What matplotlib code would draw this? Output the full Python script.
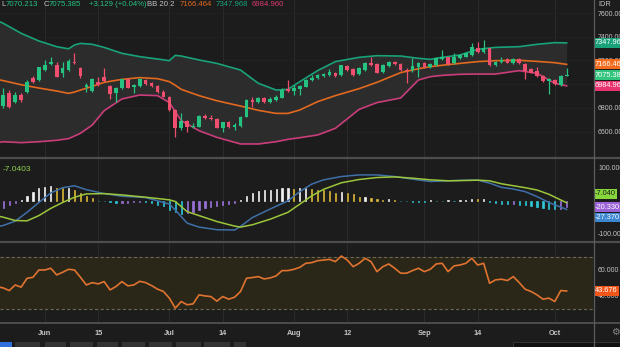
import numpy as np
from matplotlib import pyplot
from matplotlib.lines import Line2D
from matplotlib.patches import Rectangle

# Daily candles, oldest first (day 0 .. 95)
opens = [6815, 6922, 6852, 6908, 6936, 7049, 7035, 7119, 7170, 7161,
         7097, 7119, 7187, 7139, 6979, 6945, 7021, 7063, 6984, 6922,
         6965, 7043, 6973, 6984, 7038, 7012, 6984, 6936, 6894, 6782,
         6627, 6692, 6635, 6641, 6734, 6717, 6706, 6630, 6683, 6641,
         6647, 6725, 6866, 6852, 6880, 6852, 6866, 6886, 6959, 6945,
         6956, 6979, 7035, 7049, 7069, 7077, 7091, 7077, 7153, 7125,
         7085, 7119, 7181, 7167, 7105, 7156, 7190, 7170, 7119, 7119,
         7147, 7175, 7147, 7161, 7215, 7226, 7175, 7218, 7232, 7246,
         7302, 7274, 7302, 7161, 7190, 7209, 7175, 7209, 7170, 7125,
         7111, 7069, 7029, 7035, 6993, 7072]
highs = [6965, 6950, 6936, 6922, 7035, 7069, 7147, 7204, 7226, 7190,
         7190, 7209, 7260, 7147, 7007, 7049, 7063, 7133, 6993, 6979,
         7046, 7049, 6998, 7049, 7046, 7021, 6993, 6950, 6903, 6787,
         6754, 6697, 6669, 6740, 6745, 6740, 6711, 6683, 6692, 6675,
         6731, 6872, 6889, 6894, 6894, 6894, 6908, 6965, 7035, 6993,
         6993, 7040, 7077, 7085, 7097, 7125, 7105, 7164, 7161, 7133,
         7142, 7190, 7226, 7181, 7170, 7198, 7198, 7175, 7133, 7218,
         7190, 7184, 7181, 7232, 7288, 7232, 7260, 7254, 7274, 7350,
         7358, 7372, 7308, 7198, 7226, 7218, 7218, 7218, 7175, 7133,
         7147, 7077, 7049, 7040, 7078, 7133]
lows = [6796, 6796, 6838, 6852, 6928, 7007, 7029, 7114, 7161, 7057,
        7057, 7114, 7170, 7049, 6936, 6936, 6984, 7021, 6872, 6852,
        6956, 6965, 6922, 6973, 6995, 6973, 6922, 6889, 6776, 6557,
        6613, 6599, 6627, 6635, 6703, 6697, 6627, 6599, 6627, 6613,
        6641, 6720, 6810, 6844, 6844, 6844, 6858, 6880, 6936, 6908,
        6908, 6973, 7026, 7040, 7057, 7069, 7063, 7069, 7114, 7069,
        7077, 7114, 7156, 7091, 7097, 7147, 7161, 7114, 7012, 7105,
        7063, 7133, 7139, 7153, 7204, 7164, 7170, 7209, 7226, 7237,
        7265, 7265, 7156, 7153, 7175, 7175, 7170, 7170, 7040, 7091,
        7063, 7021, 6917, 6993, 6984, 7070.213]
closes = [6908, 6810, 6908, 6866, 7021, 7021, 7142, 7161, 7187, 7063,
          7133, 7195, 7175, 7069, 6993, 7043, 6993, 7029, 6917, 6970,
          7040, 6970, 6993, 7043, 7001, 6984, 6931, 6894, 6782, 6627,
          6692, 6635, 6650, 6734, 6711, 6706, 6633, 6678, 6641, 6652,
          6725, 6866, 6852, 6880, 6852, 6875, 6894, 6950, 6945, 6965,
          6984, 7035, 7055, 7077, 7085, 7105, 7069, 7159, 7119, 7077,
          7133, 7181, 7161, 7097, 7161, 7190, 7170, 7119, 7114, 7156,
          7175, 7142, 7170, 7223, 7226, 7170, 7226, 7246, 7260, 7311,
          7274, 7302, 7161, 7190, 7204, 7181, 7209, 7175, 7114, 7097,
          7069, 7029, 7040, 7001, 7072.256, 7075.385]

# Bollinger bands (20, 2)
band_days = [-1, 0, 3, 6, 9, 11, 12, 13, 15, 17, 20, 23, 26, 28, 29, 30, 33, 36, 40,
             43, 46, 48, 50, 53, 56, 60, 63, 67, 70, 72, 74, 77, 80, 83, 87, 90, 93, 95]
band_upper = [7535, 7513, 7429, 7364, 7316, 7298, 7330, 7344, 7336, 7310, 7260, 7232, 7212,
              7198, 7243, 7237, 7204, 7175, 7119, 7007, 6950, 6956, 7021, 7114, 7190, 7226,
              7240, 7237, 7218, 7209, 7226, 7246, 7294, 7310, 7316, 7336, 7350, 7347.968]
band_middle = [7040, 7029, 6995, 6967, 6942, 6922, 6933, 6950, 6981, 7015, 7040, 7055, 7046,
               7021, 6990, 6956, 6903, 6860, 6815, 6779, 6753, 6753, 6782, 6852, 6903, 6962,
               7015, 7097, 7130, 7147, 7159, 7175, 7190, 7198, 7201, 7192, 7181, 7166.464]
band_lower = [6506, 6514, 6506, 6514, 6526, 6540, 6562, 6585, 6655, 6776, 6875, 6908, 6903,
              6844, 6768, 6692, 6607, 6551, 6495, 6495, 6514, 6534, 6548, 6571, 6627, 6787,
              6844, 6883, 7035, 7063, 7074, 7083, 7085, 7085, 7114, 7091, 7007, 6984.960]

# Oscillator panel: fast line, signal line and their difference per day
osc_days = [-1, 0, 2, 4, 6, 8, 10, 12, 14, 17, 20, 24, 28, 29, 31, 33, 36, 39, 40, 42,
            45, 48, 50, 52, 54, 57, 60, 63, 66, 69, 72, 75, 78, 80, 82, 84, 86, 88, 90, 92, 95]
osc_fast = [-80, -76, -63, -36, -6, 23, 39, 45, 33, 21, 13, 9, -11, -29, -69, -81, -89, -90,
            -79, -52, -26, -1, 27, 50, 63, 73, 78, 78, 73, 65, 58, 60, 62, 62, 53, 40, 35, 27,
            12, -6, -27.37]
osc_signal = [-47, -51, -61, -62, -46, -24, -6, 10, 20, 21, 17, 10, 2, -3, -34, -46, -64, -78,
              -81, -74, -57, -36, -11, 14, 34, 54, 64, 70, 72, 68, 63, 60, 61, 62, 60, 51, 45,
              39, 32, 19, -7.0403]
osc_histogram = [-23, -15, -8, 1, 15, 25, 37, 42, 45, 39,
                 37, 39, 32, 22, 15, 9, -1, -2, -5, -8,
                 -7.5, -7, -6, -5.5, -6, -8, -13, -18, -28, -35,
                 -41, -38, -35, -28, -23, -21, -18, -13, -11, -8,
                 1, 15, 22, 29, 31, 33, 35, 37, 38, 35,
                 37, 38, 35, 33, 31, 29, 24, 25, 23, 19,
                 11, 12, 9, 5, 3, 3.5, 2, -1, -3, -4,
                 -4.5, -5, 0.5, -0.5, -1, 0.5, -0.5, 0.5, 1, 4,
                 3.5, 4, -5, -8, -11, -12, -11, -13, -15, -18,
                 -21, -23, -25, -26, -25, -20.33]

# RSI, day -1 .. 95
rsi_values = [47, 46, 44, 48.3, 46.6, 53.4, 54.2, 59.8, 59.8, 61.1, 56,
              58, 60.3, 59.8, 54.2, 48.3, 50.1, 49.1, 50.9, 44.5, 47.1,
              50.9, 47.6, 48.3, 51.1, 50.1, 47.8, 45.1, 43.3, 38.2, 30.5,
              35.6, 33.1, 33.8, 40.7, 39.9, 39.4, 35.9, 39.4, 37.4, 38.9,
              43.3, 53.4, 54, 54.7, 52.9, 53.7, 55.2, 59.3, 59.3, 60.3,
              61.8, 64.9, 65.4, 66.9, 67.4, 67.9, 66.2, 70.5, 67.4, 62.3,
              64.9, 68.7, 66.2, 58.5, 62.3, 64.4, 61.1, 57.3, 57.3, 59.3,
              61.1, 58.5, 60.3, 64.4, 64.9, 58.5, 62.9, 63.6, 64.9, 68.7,
              63.6, 64.9, 49.6, 52.2, 52.7, 51.7, 54.7, 50.1, 45.0, 43.3,
              40.7, 37.4, 38.2, 35.6, 44.0, 43.676]

tick_days = [7, 16, 28, 37, 49, 58, 71, 80, 93]
tick_labels = ["Jun", "15", "Jul", "14", "Aug", "12", "Sep", "14", "Oct"]
price_ticks = [6600, 6800, 7000, 7200, 7400, 7600]
osc_ticks = [-100, 100]
rsi_ticks = [40, 60]
rsi_levels = [30, 70]

W, H = 620, 347
BG = "#1c1c1c"
GRID = "#2a2a2a"
LABEL = "#c4c4c4"
UP = "#26c281"
DOWN = "#ef4f6e"
TEAL = "#19a27a"
ORANGE = "#e2691f"
PINK = "#c93d7a"
FONT = "Liberation Sans"


def fig_rect(left, top, right, bottom):
    return [left / W, 1 - bottom / H, (right - left) / W, (bottom - top) / H]


def style_panel(ax, ylim, yticks, fmt):
    ax.set_facecolor(BG)
    ax.set_xlim(-0.56, 99.44)
    ax.set_ylim(*ylim)
    for spine in ax.spines.values():
        spine.set_visible(False)
    ax.set_xticks(tick_days)
    ax.set_xticklabels([])
    ax.grid(axis="x", color=GRID, linewidth=0.8)
    ax.yaxis.tick_right()
    ax.set_yticks(yticks)
    ax.set_yticklabels([fmt.format(v) for v in yticks], fontsize=5, color=LABEL, family=FONT)
    ax.tick_params(length=0, pad=3.6)
    ax.set_axisbelow(True)


def value_tag(ax, value, text, face, text_color="white", shift=0):
    ax.annotate(text, xy=(1, value), xycoords=("axes fraction", "data"),
                xytext=(2, shift), textcoords="offset pixels", ha="left", va="center",
                fontsize=5.3, family=FONT, color=text_color, annotation_clip=False,
                bbox=dict(boxstyle="square,pad=0.2", fc=face, ec="none"), zorder=6)


def main() -> None:
    figure = pyplot.figure(figsize=(W / 100, H / 100), dpi=100, facecolor=BG)

    price_ax = figure.add_axes(fig_rect(0, 0, 593, 157))
    osc_ax = figure.add_axes(fig_rect(0, 159, 593, 240))
    rsi_ax = figure.add_axes(fig_rect(0, 243, 593, 322))

    # Price panel with bands and candles
    style_panel(price_ax, (6385, 7710), price_ticks, "{:.2f}")
    price_ax.grid(axis="y", color="#222222", linewidth=0.6)
    price_ax.fill_between(band_days, band_upper, band_lower, color="#2c2c2c", linewidth=0)
    price_ax.plot(band_days, band_upper, color=TEAL, linewidth=1.2)
    price_ax.plot(band_days, band_middle, color=ORANGE, linewidth=1.2)
    price_ax.plot(band_days, band_lower, color=PINK, linewidth=1.2)

    o, h, l, c = (np.array(v, dtype=float) for v in (opens, highs, lows, closes))
    days = np.arange(len(c))
    colors = np.where(c >= o, UP, DOWN)
    price_ax.vlines(days, l, h, colors=colors, linewidth=0.9, zorder=3)
    price_ax.bar(days, np.abs(c - o), bottom=np.minimum(o, c), width=0.62,
                 color=colors, linewidth=0, zorder=4)

    value_tag(price_ax, band_upper[-1], f"{band_upper[-1]:.3f}", TEAL)
    value_tag(price_ax, band_middle[-1], f"{band_middle[-1]:.3f}", "#f36b1c")
    value_tag(price_ax, closes[-1], f"{closes[-1]:.3f}", "#33c57d")
    value_tag(price_ax, band_lower[-1], f"{band_lower[-1]:.3f}", "#e8336f")

    # Oscillator panel
    style_panel(osc_ax, (-120.4, 126.5), osc_ticks, "{:.3f}")
    hist = np.array(osc_histogram)
    prev = np.concatenate([[hist[0]], hist[:-1]])
    rising = hist >= prev
    bar_colors = np.where(hist >= 0, np.where(rising, "#f2f2f2", "#d9b634"),
                          np.where(rising, "#9a72d8", "#2fc6d8"))
    osc_ax.bar(days, hist, width=0.2, color=bar_colors, edgecolor=bar_colors,
               linewidth=0.5, zorder=3)
    osc_ax.plot(osc_days, osc_fast, color="#3f70a8", linewidth=1.1, zorder=4)
    osc_ax.plot(osc_days, osc_signal, color="#9cc63b", linewidth=1.1, zorder=4)
    osc_ax.text(0.005, 0.87, f"{osc_signal[-1]:.4f}", transform=osc_ax.transAxes,
                fontsize=6, family=FONT, color="#8fd14f", va="center")
    value_tag(osc_ax, osc_signal[-1], f"{osc_signal[-1]:.3f}", "#86d63c", "#1c1c1c", shift=9)
    value_tag(osc_ax, osc_histogram[-1], f"{osc_histogram[-1]:.3f}", "#9a63d8")
    value_tag(osc_ax, osc_fast[-1], f"{osc_fast[-1]:.3f}", "#3d86d0", shift=-8)

    # RSI panel
    style_panel(rsi_ax, (19.9, 80.46), rsi_ticks, "{:.3f}")
    rsi_ax.axhspan(rsi_levels[0], rsi_levels[1], color="#2a2719", linewidth=0)
    for level in rsi_levels:
        rsi_ax.axhline(level, color="#6e6650", linewidth=0.8, linestyle=(0, (3, 2)))
    rsi_ax.plot(np.arange(-1, len(rsi_values) - 1), rsi_values, color="#e0732f",
                linewidth=1.2, zorder=4)
    value_tag(rsi_ax, rsi_values[-1], f"{rsi_values[-1]:.3f}", "#f0561a")
    rsi_ax.set_xticklabels(tick_labels, fontsize=5.3, fontweight="bold", color=LABEL, family=FONT)
    rsi_ax.tick_params(axis="x", pad=6)

    # Panel separators and the price scale divider
    for y, width in ((158, 1.6), (241.5, 1.6), (322.8, 1.4)):
        figure.add_artist(Line2D([0, 1], [1 - y / H] * 2, color="#4d4d4d", linewidth=width))
    figure.add_artist(Line2D([593.5 / W] * 2, [0, 1], color="#5c5c5c", linewidth=0.9))

    # Header line
    header = [(1, "L", LABEL), (6, f"{lows[-1]:.3f}", UP), (44, "C", LABEL),
              (49, f"{closes[-1]:.3f}", UP)]
    change = closes[-1] - closes[-2]
    header.append((89, f"+{change:.3f} (+{change / closes[-2] * 100:.2f}%)", UP))
    header += [(147, "BB 20 2", LABEL), (180, f"{band_middle[-1]:.3f}", ORANGE),
               (216, f"{band_upper[-1]:.3f}", TEAL), (252, f"{band_lower[-1]:.3f}", "#d83a70")]
    for x, text, color in header:
        figure.text(x / W, 1 - 4.5 / H, text, fontsize=5.6, family=FONT, color=color,
                    va="center", ha="left")
    figure.text(598 / W, 1 - 5 / H, "IDR", fontsize=5.3, family=FONT, color=LABEL, va="center")

    # Toolbar strip along the bottom edge
    buttons = [(0, 12), (15, 40), (45, 66), (70, 93), (97, 118), (122, 145),
               (149, 172), (176, 201), (204, 230), (234, 246)]
    for left, right in buttons:
        face = "#2f6fe0" if left == 0 else "#333333"
        figure.add_artist(Rectangle((left / W, 0), (right - left) / W, 5 / H,
                                    facecolor=face, edgecolor="none"))
    figure.add_artist(Rectangle((513 / W, 0), 107 / W, 5 / H,
                                facecolor="#101010", edgecolor="#3a3a3a", linewidth=0.6))
    figure.text(615 / W, 1 - 332 / H, "\u2699", fontsize=7, color="#8a8a8a",
                va="center", ha="center")

    figure.savefig("out.png", dpi=100, facecolor=BG)


if __name__ == "__main__":
    main()
